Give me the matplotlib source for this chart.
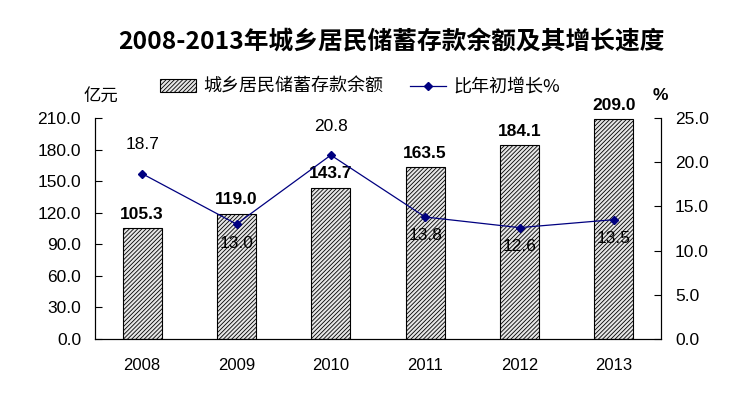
import numpy as np
import matplotlib.pyplot as plt
from matplotlib.patches import Patch
from matplotlib.lines import Line2D

plt.rcParams['font.family'] = ['Liberation Sans', 'Noto Sans CJK SC', 'DejaVu Sans']
plt.rcParams['hatch.color'] = '#6e6e6e'
plt.rcParams['hatch.linewidth'] = 0.6

# 数据
years = ['2008', '2009', '2010', '2011', '2012', '2013']
deposits = [105.3, 119.0, 143.7, 163.5, 184.1, 209.0]
growth = [18.7, 13.0, 20.8, 13.8, 12.6, 13.5]
growth_above = [True, False, True, False, False, False]

cjk = ['Noto Sans CJK SC', 'DejaVu Sans']
bar_face = '#e6e6e6'
bar_hatch = '////////'

fig = plt.figure(figsize=(7.45, 3.93), dpi=100)
ax = fig.add_axes([95 / 745, 1 - 339 / 393, 566 / 745, 221 / 393])
x = np.arange(len(years))

ax.bar(x, deposits, width=0.41, color=bar_face, edgecolor='black',
       hatch=bar_hatch, linewidth=0.8, zorder=2)
for xi, v in zip(x, deposits):
    ax.text(xi, v + 6, f'{v:.1f}', ha='center', va='bottom',
            fontsize=12.5, fontweight='bold')

ax.set_xlim(-0.5, 5.5)
ax.set_ylim(0, 210)
ax.set_yticks(np.arange(0, 211, 30))
ax.set_yticklabels([f'{t:.1f}' for t in np.arange(0, 211, 30)])
ax.set_xticks(x)
ax.set_xticklabels(years)
ax.tick_params(axis='y', direction='in', length=5, labelsize=12.5, pad=10)
ax.tick_params(axis='x', length=0, labelsize=12, pad=14)
ax.spines['top'].set_visible(False)

ax2 = ax.twinx()
ax2.plot(x, growth, color='#000080', linewidth=0.9, marker='D',
         markersize=4.5, zorder=3)
for xi, v, up in zip(x, growth, growth_above):
    if up:
        ax2.text(xi, v + 2.4, f'{v:.1f}', ha='center', va='bottom', fontsize=12.5)
    else:
        ax2.text(xi, v - 1.3, f'{v:.1f}', ha='center', va='top', fontsize=12.5)
ax2.set_ylim(0, 25)
ax2.set_yticks(np.arange(0, 26, 5))
ax2.set_yticklabels([f'{t:.1f}' for t in np.arange(0, 26, 5)])
ax2.tick_params(axis='y', direction='in', length=5, labelsize=12.5, pad=10)
ax2.spines['top'].set_visible(False)

fig.text(391 / 745, 1 - 42 / 393, '2008-2013年城乡居民储蓄存款余额及其增长速度',
         ha='center', va='center', fontsize=17.8, fontweight='bold', family=cjk)
fig.text(84 / 745, 1 - 97 / 393, '亿元', ha='left', va='center',
         fontsize=12.5, family=cjk)
fig.text(660 / 745, 1 - 96 / 393, '%', ha='center', va='center',
         fontsize=12.5, fontweight='bold')

# 图例
handles = [Patch(facecolor=bar_face, edgecolor='black', hatch=bar_hatch,
                 linewidth=0.8),
           Line2D([], [], color='#000080', linewidth=0.9, marker='D', markersize=4)]
fig.legend(handles, ['城乡居民储蓄存款余额', '比年初增长%'], loc='center',
           bbox_to_anchor=(360 / 745, 1 - 87 / 393), ncol=2, frameon=False,
           prop={'family': cjk, 'size': 13}, handlelength=2.0,
           handleheight=0.7, columnspacing=1.5, handletextpad=0.4)

fig.savefig('out.png', dpi=100)
